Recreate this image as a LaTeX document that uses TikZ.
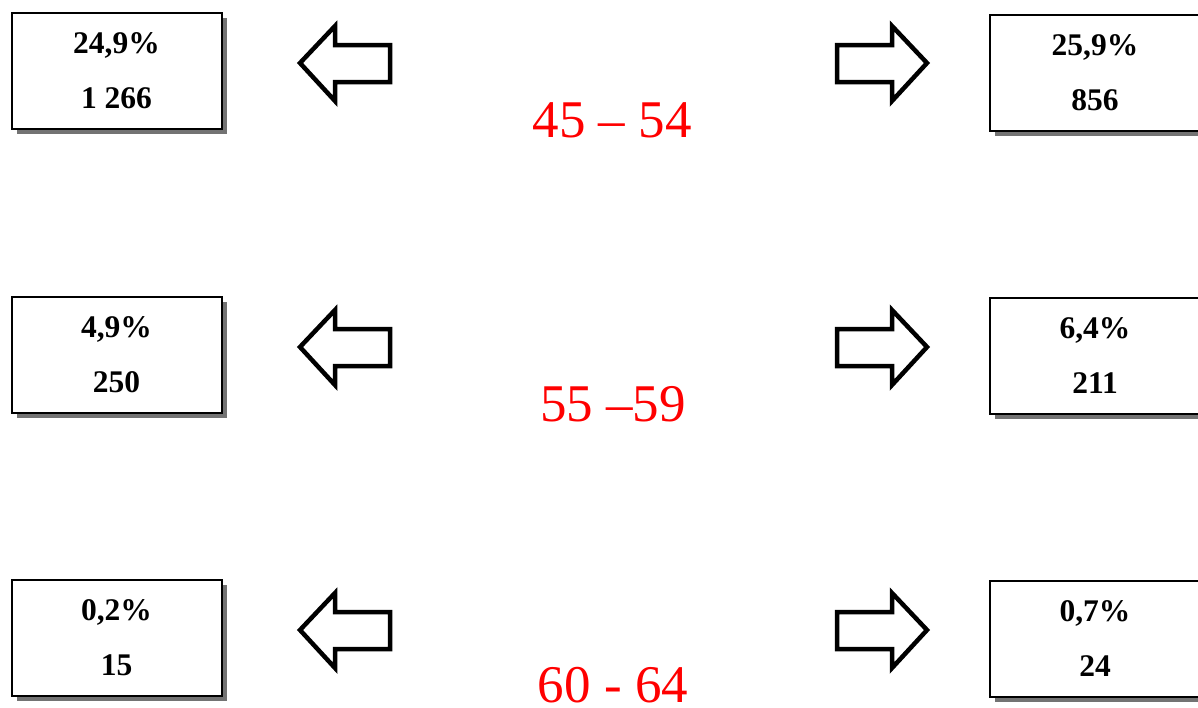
\documentclass[tikz,border=0pt]{standalone}
\usepackage{fontspec}
\setmainfont{Liberation Serif}
\usetikzlibrary{shadows}
\begin{document}
\begin{tikzpicture}[x=1pt,y=-1pt,
  databox/.style={draw=black,line width=2pt,fill=white,minimum width=210pt,minimum height=116pt,
    inner sep=0pt,align=center,font=\fontsize{31.5}{55}\selectfont\bfseries,
    drop shadow={shadow xshift=5pt,shadow yshift=-5pt,fill=black!55,opacity=1}},
  agelabel/.style={text=red,font=\fontsize{53}{60}\selectfont,inner sep=0pt},
  bigarrow/.style={draw=black,line width=4.5pt,fill=white,miter limit=10}]
\useasboundingbox (0,0) rectangle (1198,707);
\clip (0,0) rectangle (1198,707);

\foreach \dy/\n in {0/1,284/2,567/3}{
  \begin{scope}[shift={(0,\dy)}]
    \draw[bigarrow] (300,63) -- (335,26) -- (335,45) -- (390,45) -- (390,82) -- (335,82) -- (335,101) -- cycle;
    \draw[bigarrow] (837,45) -- (892,45) -- (892,26) -- (927,63) -- (892,101) -- (892,82) -- (837,82) -- cycle;
  \end{scope}
}

\node[databox] (l1) at (116.5,71) {\raisebox{0pt}[0pt][0pt]{}24,9\%\\1 266};
\node[databox] (r1) at (1095,73) {25,9\%\\856};
\node[agelabel] (a1) at (612,120) {45 – 54};

\node[databox] (l2) at (116.5,355) {4,9\%\\250};
\node[databox] (r2) at (1095,356) {6,4\%\\211};
\node[agelabel] (a2) at (613,404) {55 –59};

\node[databox] (l3) at (116.5,638) {0,2\%\\15};
\node[databox] (r3) at (1095,639) {0,7\%\\24};
\node[agelabel] (a3) at (613,685) {60 - 64};
\end{tikzpicture}
\end{document}
